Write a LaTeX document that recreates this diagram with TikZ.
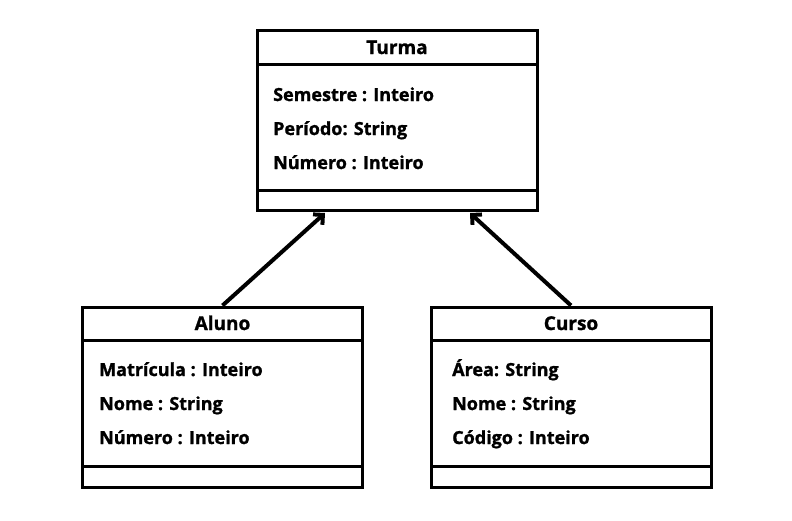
\documentclass[tikz,border=0pt]{standalone}
\usepackage{fontspec}
\setmainfont{Open Sans}[BoldFeatures={FakeBold=1.2}]
\usetikzlibrary{arrows.meta,positioning}
\tikzset{
  classbox/.style={draw=black, line width=3pt, minimum width=280pt, minimum height=180pt, inner sep=0pt, fill=white},
  sepline/.style={line width=3pt},
  ctitle/.style={font=\bfseries\fontsize{19}{20}\selectfont, inner sep=0pt, anchor=base},
  attr/.style={font=\bfseries\fontsize{18}{20}\selectfont, inner sep=0pt, anchor=base west},
  inherit/.style={line width=4pt, -{Straight Barb[length=7pt,width=14pt,line width=4pt]}}
}
\begin{document}
\begin{tikzpicture}[x=1pt,y=-1pt]
\useasboundingbox (0,0) rectangle (792,520);
% Turma
\node[classbox] (turma) at (397,120.5) {};
\draw[sepline] (257,64) -- (537,64);
\draw[sepline] (257,190) -- (537,190);
\node[ctitle] (turmaT) at (397,54) {Turma};
\node[attr] (t1) at (273,101) {Semestre : Inteiro};
\node[attr] (t2) at (273,135) {Período: String};
\node[attr] (t3) at (273,169) {Número : Inteiro};
% Aluno
\node[classbox] (aluno) at (222.5,397) {};
\draw[sepline] (83,340) -- (362,340);
\draw[sepline] (83,466) -- (362,466);
\node[ctitle] (alunoT) at (222.5,330) {Aluno};
\node[attr] (a1) at (99,376) {Matrícula : Inteiro};
\node[attr] (a2) at (99,410) {Nome : String};
\node[attr] (a3) at (99,444) {Número : Inteiro};
% Curso
\node[classbox] (curso) at (571,397) {};
\draw[sepline] (431,340) -- (711,340);
\draw[sepline] (431,466) -- (711,466);
\node[ctitle] (cursoT) at (571,330) {Curso};
\node[attr] (c1) at (452,376) {Área: String};
\node[attr] (c2) at (452,410) {Nome : String};
\node[attr] (c3) at (452,444) {Código : Inteiro};
% connectors
\coordinate (tl) at ([xshift=-72pt,yshift=-1pt]turma.south);
\coordinate (tr) at ([xshift=73pt,yshift=-1pt]turma.south);
\draw[inherit] (aluno.north) -- (tl);
\draw[inherit] (curso.north) -- (tr);
\end{tikzpicture}
\end{document}
